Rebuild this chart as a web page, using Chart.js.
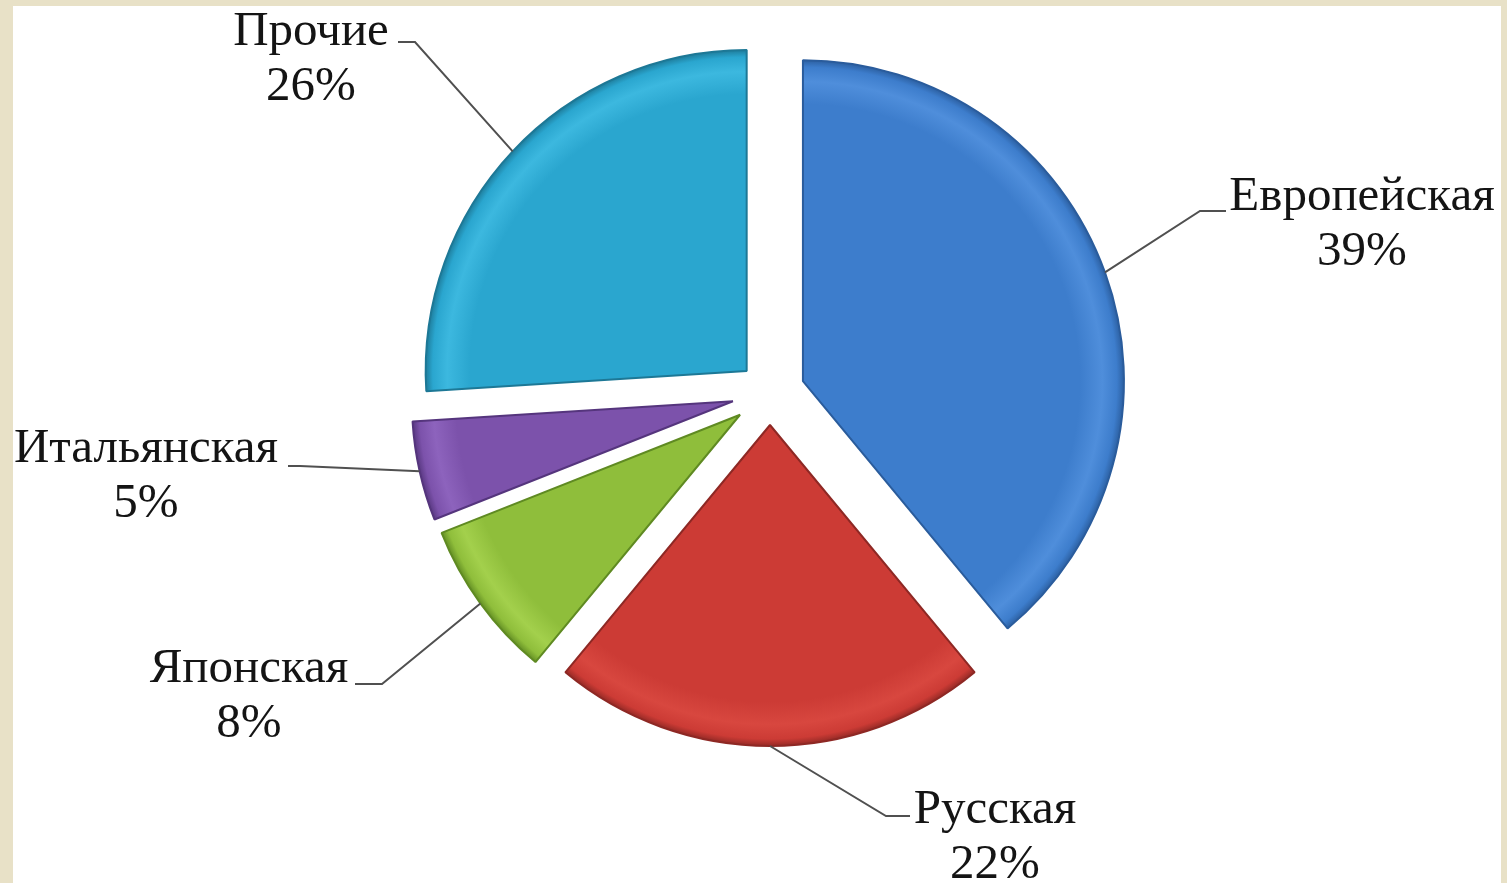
<!DOCTYPE html>
<html lang="ru">
<head>
  <meta charset="UTF-8">
  <title>Кухня</title>
  <script src="https://cdn.jsdelivr.net/npm/chart.js"></script>
  <style>
    html, body { margin: 0; padding: 0; }
    body { width: 1507px; height: 883px; background: #e8e1c7; position: relative; overflow: hidden; }
    #sheet { position: absolute; left: 13px; top: 6px; width: 1488px; height: 877px; background: #fff; }
    #wrap { position: absolute; left: 0; top: 0; width: 1507px; height: 883px; }
  </style>
</head>
<body>
  <div id="sheet"></div>
  <div id="wrap"><canvas id="pie"></canvas></div>

  <script>
    /* --- данные --- */
    const categories = ['Европейская', 'Русская', 'Японская', 'Итальянская', 'Прочие'];
    const shares     = [39, 22, 8, 5, 26];
    const pctLabels  = ['39%', '22%', '8%', '5%', '26%'];

    /* цвета: основной, светлый блик, тёмный край */
    const baseColors  = ['#3d7dcc', '#cc3b35', '#8fbe3b', '#7c52ab', '#2aa6cf'];
    const lightColors = ['#4f8edb', '#d8473f', '#a3d04c', '#8d63bd', '#3cb8df'];
    const darkColors  = ['#2a5c9c', '#8e2824', '#5f8a22', '#55357d', '#1d7896'];

    /* смещение секторов (px) и раскладка подписей */
    const explode = [35, 32, 37, 38, 32];
    const labelLayout = [
      { x: 1362, y: 210, elbow: [1200, 211], end: 1226 },
      { x: 995,  y: 823, elbow: [886, 816],  end: 910 },
      { x: 249,  y: 682, elbow: [382, 684],  end: 355 },
      { x: 146,  y: 462, elbow: [300, 466],  end: 288 },
      { x: 311,  y: 45,  elbow: [415, 42],   end: 398 }
    ];

    /* заливка с «фаской» */
    function sliceFill (ctx) {
      const chart = ctx.chart;
      const area = chart.chartArea;
      const i = ctx.dataIndex;
      if (!area) return baseColors[i];
      const cx = (area.left + area.right) / 2;
      const cy = (area.top + area.bottom) / 2;
      const r  = Math.min(area.width, area.height) / 2;
      const g = chart.ctx.createRadialGradient(cx, cy, 0, cx, cy, r);
      g.addColorStop(0,    baseColors[i]);
      g.addColorStop(0.86, baseColors[i]);
      g.addColorStop(0.93, lightColors[i]);
      g.addColorStop(0.975, baseColors[i]);
      g.addColorStop(1,    darkColors[i]);
      return g;
    }

    /* рисуем сектора со сдвигом наружу */
    const explodePlugin = {
      id: 'explode',
      beforeDatasetsDraw (chart) {
        const ctx = chart.ctx;
        chart.getDatasetMeta(0).data.forEach((arc, i) => {
          const mid = (arc.startAngle + arc.endAngle) / 2;
          ctx.save();
          ctx.translate(Math.cos(mid) * explode[i], Math.sin(mid) * explode[i]);
          arc.draw(ctx);
          ctx.restore();
        });
        return false;
      }
    };

    /* подписи с выносками */
    const labelPlugin = {
      id: 'leaderLabels',
      afterDraw (chart) {
        const ctx = chart.ctx;
        ctx.save();
        chart.getDatasetMeta(0).data.forEach((arc, i) => {
          const p = arc.getProps(['x', 'y', 'startAngle', 'endAngle', 'outerRadius'], true);
          const mid = (p.startAngle + p.endAngle) / 2;
          const rr = p.outerRadius + explode[i];
          const sx = p.x + Math.cos(mid) * rr;
          const sy = p.y + Math.sin(mid) * rr;
          const L = labelLayout[i];

          ctx.strokeStyle = '#505050';
          ctx.lineWidth = 2;
          ctx.beginPath();
          ctx.moveTo(sx, sy);
          ctx.lineTo(L.elbow[0], L.elbow[1]);
          ctx.lineTo(L.end, L.elbow[1]);
          ctx.stroke();

          ctx.fillStyle = '#141414';
          ctx.font = '49px "Liberation Serif", "Times New Roman", serif';
          ctx.textAlign = 'center';
          ctx.textBaseline = 'alphabetic';
          ctx.fillText(categories[i], L.x, L.y);
          ctx.fillText(pctLabels[i], L.x, L.y + 55);
        });
        ctx.restore();
      }
    };

    new Chart(document.getElementById('pie'), {
      type: 'pie',
      data: {
        labels: categories,
        datasets: [{
          data: shares,
          backgroundColor: sliceFill,
          borderColor: darkColors,
          borderWidth: 2,
          offset: 0
        }]
      },
      options: {
        responsive: true,
        maintainAspectRatio: false,
        animation: false,
        layout: { padding: { top: 71, bottom: 168, left: 135, right: 102 } },
        plugins: {
          legend: { display: false },
          tooltip: { enabled: false }
        }
      },
      plugins: [explodePlugin, labelPlugin]
    });
  </script>
</body>
</html>
